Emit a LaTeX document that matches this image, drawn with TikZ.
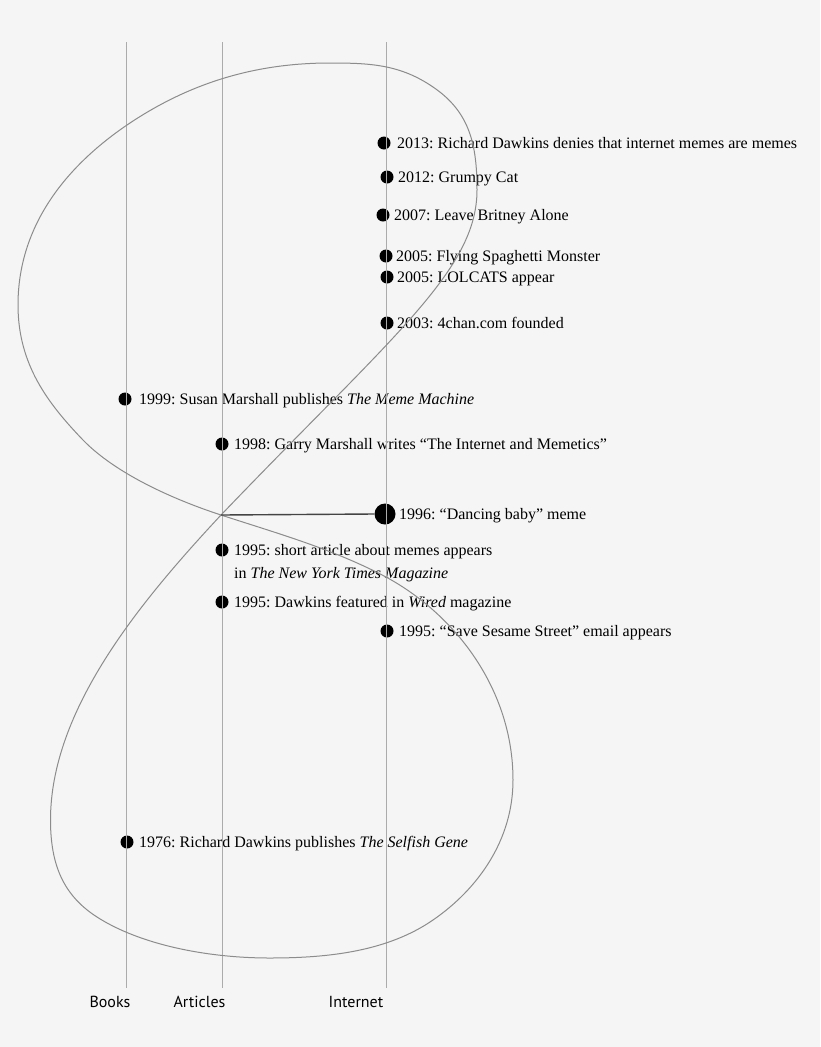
\documentclass[tikz,border=0pt]{standalone}
\usepackage{fontspec}
\setmainfont{Liberation Serif}
\newfontfamily\labelsans{PT Sans}
\definecolor{bgcol}{HTML}{F5F5F5}
\definecolor{axisgray}{HTML}{ABABAB}
\definecolor{curvegray}{HTML}{8C8C8C}
\definecolor{linkgray}{HTML}{444444}
\begin{document}
\frenchspacing
\begin{tikzpicture}[x=1pt,y=-1pt,
  evdot/.style={circle, fill=black, inner sep=0pt, minimum size=13pt},
  bigdot/.style={circle, fill=black, inner sep=0pt, minimum size=21pt},
  evt/.style={anchor=base west, inner sep=0pt, font=\fontsize{16}{19}\selectfont},
  axislabel/.style={anchor=base, inner sep=0pt, font=\labelsans\fontsize{16}{19}\selectfont},
  axisline/.style={draw=axisgray, line width=1pt},
  loopline/.style={draw=curvegray, line width=1pt},
  linkline/.style={draw=linkgray, line width=1.4pt}]
\fill[bgcol] (0,0) rectangle (820,1047);
\useasboundingbox (0,0) rectangle (820,1047);

% axis end points
\coordinate (booksT) at (126,42);   \coordinate (booksB) at (126,988);
\coordinate (artT) at (222,42);     \coordinate (artB) at (222,988);
\coordinate (netT) at (386,42);     \coordinate (netB) at (386,988);
\coordinate (cross) at (221,515);

% dots
\node[evdot] (d2013) at (384,143) {};
\node[evdot] (d2012) at (387,177) {};
\node[evdot] (d2007) at (383,215) {};
\node[evdot] (d2005a) at (386,256) {};
\node[evdot] (d2005b) at (387,277) {};
\node[evdot] (d2003) at (387,323) {};
\node[evdot] (d1999) at (125,399) {};
\node[evdot] (d1998) at (222,444) {};
\node[bigdot] (d1996) at (385,514) {};
\node[evdot] (d1995a) at (222,550) {};
\node[evdot] (d1995b) at (222,602) {};
\node[evdot] (d1995c) at (387,631) {};
\node[evdot] (d1976) at (127,842) {};

% labels
\node[evt] (t2013) at (397,148.5) {2013: Richard Dawkins denies that internet memes are memes};
\node[evt] (t2012) at (398,182.5) {2012: Grumpy Cat};
\node[evt] (t2007) at (394,220.5) {2007: Leave Britney Alone};
\node[evt] (t2005a) at (396,261.5) {2005: Flying Spaghetti Monster};
\node[evt] (t2005b) at (397,282.5) {2005: LOLCATS appear};
\node[evt] (t2003) at (397,328.5) {2003: 4chan.com founded};
\node[evt] (t1999) at (139,404.5) {1999: Susan Marshall publishes \textit{The Meme Machine}};
\node[evt] (t1998) at (234,449.5) {1998: Garry Marshall writes “The Internet and Memetics”};
\node[evt] (t1996) at (399,519.5) {1996: “Dancing baby” meme};
\node[evt] (t1995a) at (234,555.5) {1995: short article about memes appears};
\node[evt] (t1995a2) at (234,578.5) {in \textit{The New York Times Magazine}};
\node[evt] (t1995b) at (234,607.5) {1995: Dawkins featured in \textit{Wired} magazine};
\node[evt] (t1995c) at (399,636.5) {1995: “Save Sesame Street” email appears};
\node[evt] (t1976) at (139,847.5) {1976: Richard Dawkins publishes \textit{The Selfish Gene}};

% axes
\draw[axisline] (booksT) -- (booksB);
\draw[axisline] (artT) -- (artB);
\draw[axisline] (netT) -- (netB);

\node[axislabel] (lbooks) at (110,1007) {Books};
\node[axislabel] (larts) at (199.5,1007) {Articles};
\node[axislabel] (lnet) at (356,1007) {Internet};

% figure-eight loop
\draw[loopline] (cross) .. controls (393.5,335) and (477,270) .. (477,190)
 .. controls (477,145) and (470,112) .. (433,87)
 .. controls (400,64.4) and (370,63) .. (330,63)
 .. controls (255,63) and (189,83) .. (127,125)
 .. controls (61,170) and (18,230) .. (18,305)
 .. controls (18,365) and (48.5,404) .. (83,440)
 .. controls (114,472) and (169,498) .. (cross)
 .. controls (278,533.6) and (333,549) .. (386,577)
 .. controls (456,615) and (513,690) .. (513,780)
 .. controls (513,840) and (478,889) .. (433,920)
 .. controls (388,951) and (330,958) .. (270,958)
 .. controls (205,958) and (139,944) .. (97,917)
 .. controls (63.4,895.4) and (50.5,865) .. (50.5,820)
 .. controls (50.5,710) and (139.4,602.6) .. (cross);

% link to the dancing baby
\draw[linkline] (cross) -- (d1996.west);
\end{tikzpicture}
\end{document}
